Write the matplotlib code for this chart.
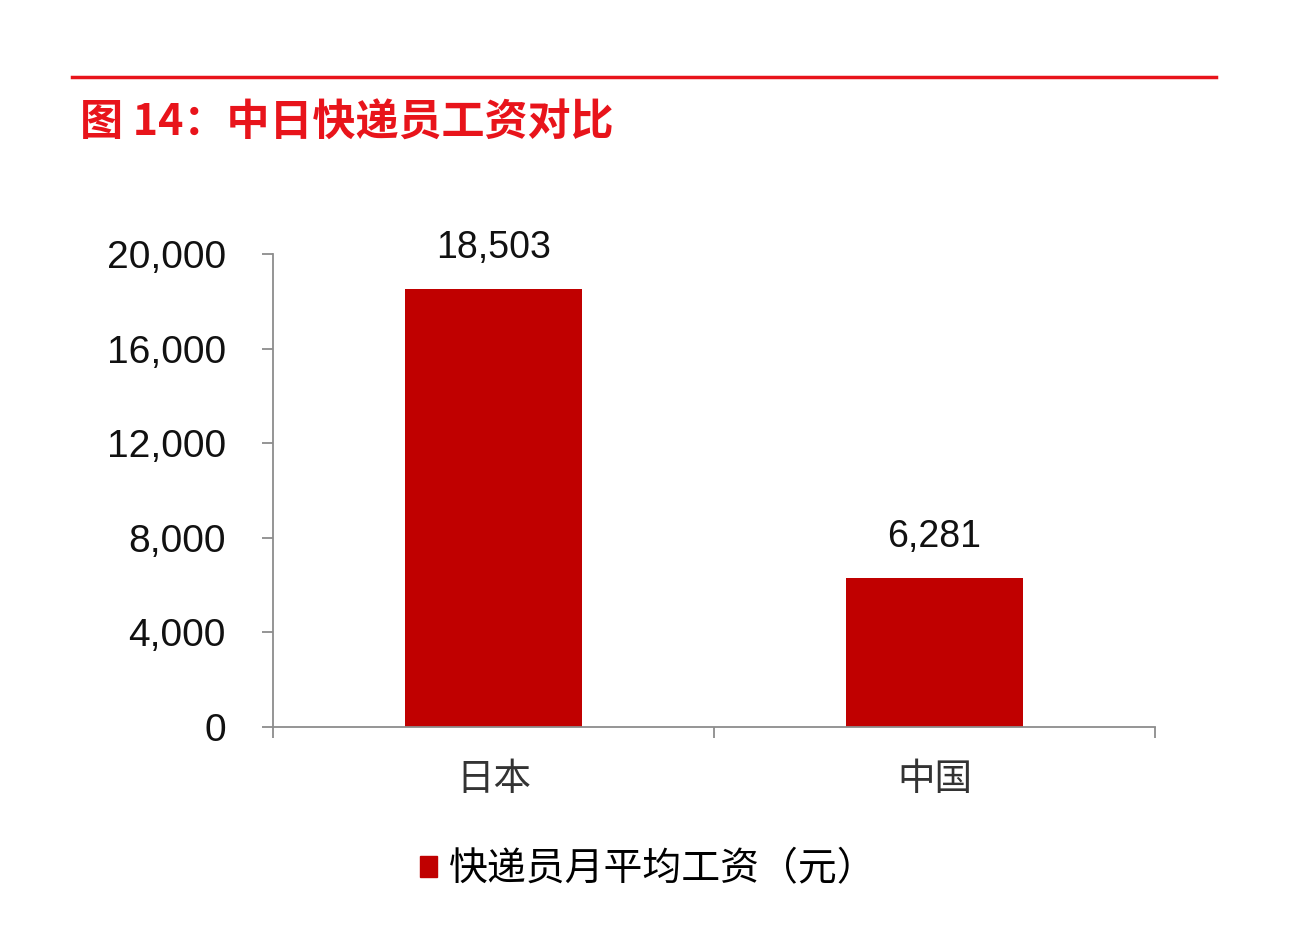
import matplotlib
matplotlib.use("Agg")
from matplotlib import pyplot as plt
from matplotlib.lines import Line2D
from matplotlib.patches import Patch
from matplotlib.ticker import FuncFormatter

countries = ["日本", "中国"]
wages = [18503, 6281]
series_name = "快递员月平均工资（元）"
title = "图 14：中日快递员工资对比"

bar_color = "#C00000"
title_color = "#E8141B"
axis_color = "#8C8C8C"

plt.rcParams["font.family"] = ["Liberation Sans", "Noto Sans CJK SC", "DejaVu Sans"]


def main():
    fig = plt.figure(figsize=(12.96, 9.40), dpi=100)
    ax = fig.add_axes([0.2106, 0.2266, 0.6806, 0.5032])

    x = range(len(countries))
    ax.bar(x, wages, width=0.4, color=bar_color, zorder=2)
    for xi, v in zip(x, wages):
        ax.annotate(f"{v:,}", (xi, v), xytext=(0, 17), textcoords="offset points",
                    ha="center", va="bottom", fontsize=27, color="#111111")

    ax.set_xlim(-0.5, len(countries) - 0.5)
    ax.set_ylim(0, 20000)
    ax.set_yticks(range(0, 20001, 4000))
    ax.yaxis.set_major_formatter(FuncFormatter(lambda v, _: f"{int(v):,}"))
    ax.set_xticks(list(x))
    ax.set_xticklabels(countries, fontsize=27, color="#333333",
                       family=["Noto Sans CJK SC"])
    ax.set_xticks([i - 0.5 for i in range(len(countries) + 1)], minor=True)
    ax.tick_params(axis="x", which="major", length=0, pad=24)
    ax.tick_params(axis="x", which="minor", length=8, width=1.3, color=axis_color)
    ax.tick_params(axis="y", length=8, width=1.3, color=axis_color,
                   labelsize=28, labelcolor="#111111", pad=26)

    for side in ("top", "right"):
        ax.spines[side].set_visible(False)
    for side in ("left", "bottom"):
        ax.spines[side].set_color(axis_color)
        ax.spines[side].set_linewidth(1.3)

    fig.legend(handles=[Patch(color=bar_color, label=series_name)],
               loc="center", bbox_to_anchor=(0.5, 0.075), frameon=False,
               handlelength=0.45, handleheight=0.45, handletextpad=0.3,
               prop={"family": ["Noto Sans CJK SC"], "size": 28})

    fig.add_artist(Line2D([72 / 1296, 1216 / 1296], [1 - 77 / 940] * 2,
                          transform=fig.transFigure, color=title_color, lw=2.5))
    fig.text(80 / 1296, 1 - 123 / 940, title, fontsize=31, fontweight="bold",
             color=title_color, va="center", ha="left",
             family=["Noto Sans CJK SC"])

    fig.savefig("out.png", dpi=100, facecolor="white")


if __name__ == "__main__":
    main()
